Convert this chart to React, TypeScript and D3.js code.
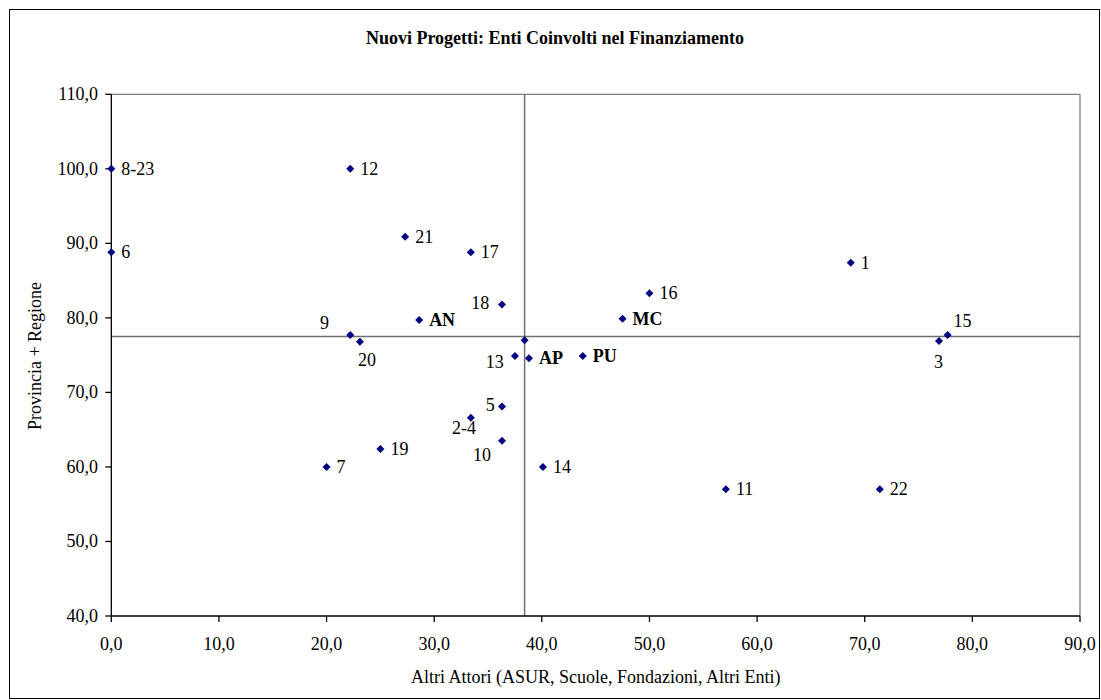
import React from "react";
import * as d3 from "d3";

// ---- Data ----
const pointLabels = ["8-23", "12", "6", "21", "17", "9", "20", "AN", "18", "13", "AP", "PU", "MC", "16", "1", "15", "3", "5", "2-4", "10", "19", "7", "14", "11", "22", ""];
const xValues = [0, 22.2, 0, 27.3, 33.4, 22.2, 23.1, 28.6, 36.3, 37.5, 38.8, 43.8, 47.5, 50.0, 68.7, 77.7, 76.9, 36.3, 33.4, 36.3, 25.0, 20.0, 40.1, 57.1, 71.4, 38.4];
const yValues = [100, 100, 88.8, 90.9, 88.8, 77.7, 76.8, 79.7, 81.8, 74.9, 74.6, 74.9, 79.9, 83.3, 87.4, 77.7, 76.9, 68.1, 66.6, 63.5, 62.4, 60.0, 60.0, 57.0, 57.0, 77.0];
const boldLabels = ["AN", "AP", "PU", "MC"];
const refX = 38.4;
const refY = 77.5;
const xTicks = [0, 10, 20, 30, 40, 50, 60, 70, 80, 90];
const yTicks = [40, 50, 60, 70, 80, 90, 100, 110];

const title = "Nuovi Progetti: Enti Coinvolti nel Finanziamento";
const xTitle = "Altri Attori (ASUR, Scuole, Fondazioni, Altri Enti)";
const yTitle = "Provincia + Regione";

// label placement (center offsets) for labels not placed to the right
const labelOffsets: Record<string, [number, number]> = {
  "9": [-25.7, -12.3],
  "20": [7, 18],
  "18": [-21.7, -1.4],
  "13": [-20.3, 5.7],
  "5": [-11.7, -1.7],
  "2-4": [-6.7, 10.6],
  "10": [-20, 14.3],
  "15": [15, -14],
  "3": [-0.6, 21.3],
};

const W = 1101;
const H = 700;
const L = 111.3, R = 1080, T = 94.3, B = 616;
const FONT = "'Liberation Serif', 'Times New Roman', serif";
const FS = 18;

const locale = d3.formatLocale({ decimal: ",", thousands: ".", grouping: [3], currency: ["", "€"] });
const fmt = locale.format(".1f");

export default function App() {
  const x = d3.scaleLinear().domain([0, 90]).range([L, R]);
  const y = d3.scaleLinear().domain([40, 110]).range([B, T]);
  const diamond = (cx: number, cy: number) => {
    const r = 4;
    return `M${cx},${cy - r}L${cx + r},${cy}L${cx},${cy + r}L${cx - r},${cy}Z`;
  };
  return (
    <svg width={W} height={H} style={{ position: "absolute", left: 0, top: 0, display: "block", background: "#fff" }} fontFamily={FONT}>
      <rect x={9.5} y={9.5} width={1090} height={689} fill="#fff" stroke="#000" strokeWidth={1} />
      <text x={555} y={44} textAnchor="middle" fontWeight="bold" fontSize={FS}>{title}</text>
      {/* plot frame */}
      <line x1={L} x2={R} y1={T} y2={T} stroke="#808080" strokeWidth={1.3} />
      <line x1={R} x2={R} y1={T} y2={B} stroke="#808080" strokeWidth={1.3} />
      {/* reference lines */}
      <line x1={x(refX)} x2={x(refX)} y1={T} y2={B} stroke="#707070" strokeWidth={1.5} />
      <line x1={L} x2={R} y1={y(refY)} y2={y(refY)} stroke="#707070" strokeWidth={1.5} />
      {/* axes */}
      <line x1={L} x2={L} y1={T} y2={B} stroke="#000" strokeWidth={1.3} />
      <line x1={L} x2={R} y1={B} y2={B} stroke="#000" strokeWidth={1.3} />
      {yTicks.map((t) => (
        <g key={"y" + t}>
          <line x1={L - 6} x2={L} y1={y(t)} y2={y(t)} stroke="#000" strokeWidth={1.3} />
          <text x={98} y={y(t) + 6} textAnchor="end" fontSize={FS}>{fmt(t)}</text>
        </g>
      ))}
      {xTicks.map((t) => (
        <g key={"x" + t}>
          <line x1={x(t)} x2={x(t)} y1={B} y2={B + 6} stroke="#000" strokeWidth={1.3} />
          <text x={x(t)} y={650} textAnchor="middle" fontSize={FS}>{fmt(t)}</text>
        </g>
      ))}
      <text x={(L + R) / 2} y={683} textAnchor="middle" fontSize={FS}>{xTitle}</text>
      <text transform={`translate(41,356) rotate(-90)`} textAnchor="middle" fontSize={FS}>{yTitle}</text>
      {/* points */}
      {xValues.map((v, i) => (
        <path key={"p" + i} d={diamond(x(v), y(yValues[i]))} fill="#000080" />
      ))}
      {pointLabels.map((lab, i) => {
        if (!lab) return null;
        const px = x(xValues[i]);
        const py = y(yValues[i]);
        const bold = boldLabels.includes(lab);
        const off = labelOffsets[lab];
        if (off) {
          return (
            <text key={"l" + i} x={px + off[0]} y={py + off[1] + 6} textAnchor="middle" fontSize={FS} fontWeight={bold ? "bold" : "normal"}>{lab}</text>
          );
        }
        return (
          <text key={"l" + i} x={px + 10} y={py + 6} textAnchor="start" fontSize={FS} fontWeight={bold ? "bold" : "normal"}>{lab}</text>
        );
      })}
    </svg>
  );
}
